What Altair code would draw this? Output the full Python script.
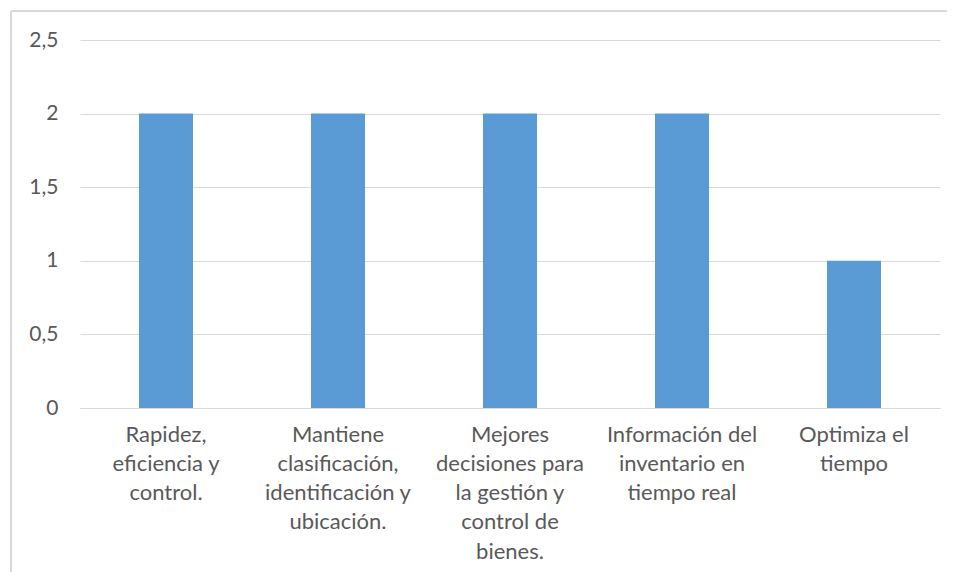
import altair as alt
import pandas as pd

categories = [
    "Rapidez,|eficiencia y|control.",
    "Mantiene|clasificación,|identificación y|ubicación.",
    "Mejores|decisiones para|la gestión y|control de|bienes.",
    "Información del|inventario en|tiempo real",
    "Optimiza el|tiempo",
]
values = [2, 2, 2, 2, 1]
y_ticks = [0, 0.5, 1, 1.5, 2, 2.5]

df = pd.DataFrame({"cat": categories, "val": values})

FONT = "Lato"
GRAY = "#595959"
GRID = "#d9d9d9"

bars = alt.Chart(df).mark_bar(color="#5B9BD5").encode(
    x=alt.X(
        "cat:N",
        sort=categories,
        title=None,
        scale=alt.Scale(paddingInner=0.686, paddingOuter=0.343),
        axis=alt.Axis(
            labelExpr="split(datum.label, '|')",
            labelAngle=0,
            labelFont=FONT,
            labelFontSize=22,
            labelColor=GRAY,
            labelLineHeight=29.3,
            labelPadding=16,
            labelLimit=300,
            ticks=False,
            domainColor=GRID,
            domainWidth=1,
            grid=False,
        ),
    ),
    y=alt.Y(
        "val:Q",
        title=None,
        scale=alt.Scale(domain=[0, 2.5], nice=False),
        axis=alt.Axis(
            values=y_ticks,
            format="~g",
            labelExpr="replace(datum.label, '.', ',')",
            labelFont=FONT,
            labelFontSize=21,
            labelColor=GRAY,
            labelPadding=22,
            ticks=False,
            domain=False,
            grid=True,
            gridColor=GRID,
            gridWidth=1,
        ),
    ),
)

frame_left = alt.Chart(df).mark_rule(color=GRID, strokeWidth=2).encode(
    x=alt.value(-69), y=alt.value(-29), y2=alt.value(560)
)
frame_top = alt.Chart(df).mark_rule(color=GRID, strokeWidth=2).encode(
    x=alt.value(-69), x2=alt.value(950), y=alt.value(-29)
)

chart = alt.layer(frame_left, frame_top, bars).properties(
    width=860,
    height=368,
    background="white",
    autosize=alt.AutoSizeParams(type="none"),
    padding={"left": 72, "top": 32, "right": 7, "bottom": 164},
).configure_view(strokeWidth=0, stroke="transparent")

chart.save("out.html", embed_options={"renderer": "svg", "actions": False})
